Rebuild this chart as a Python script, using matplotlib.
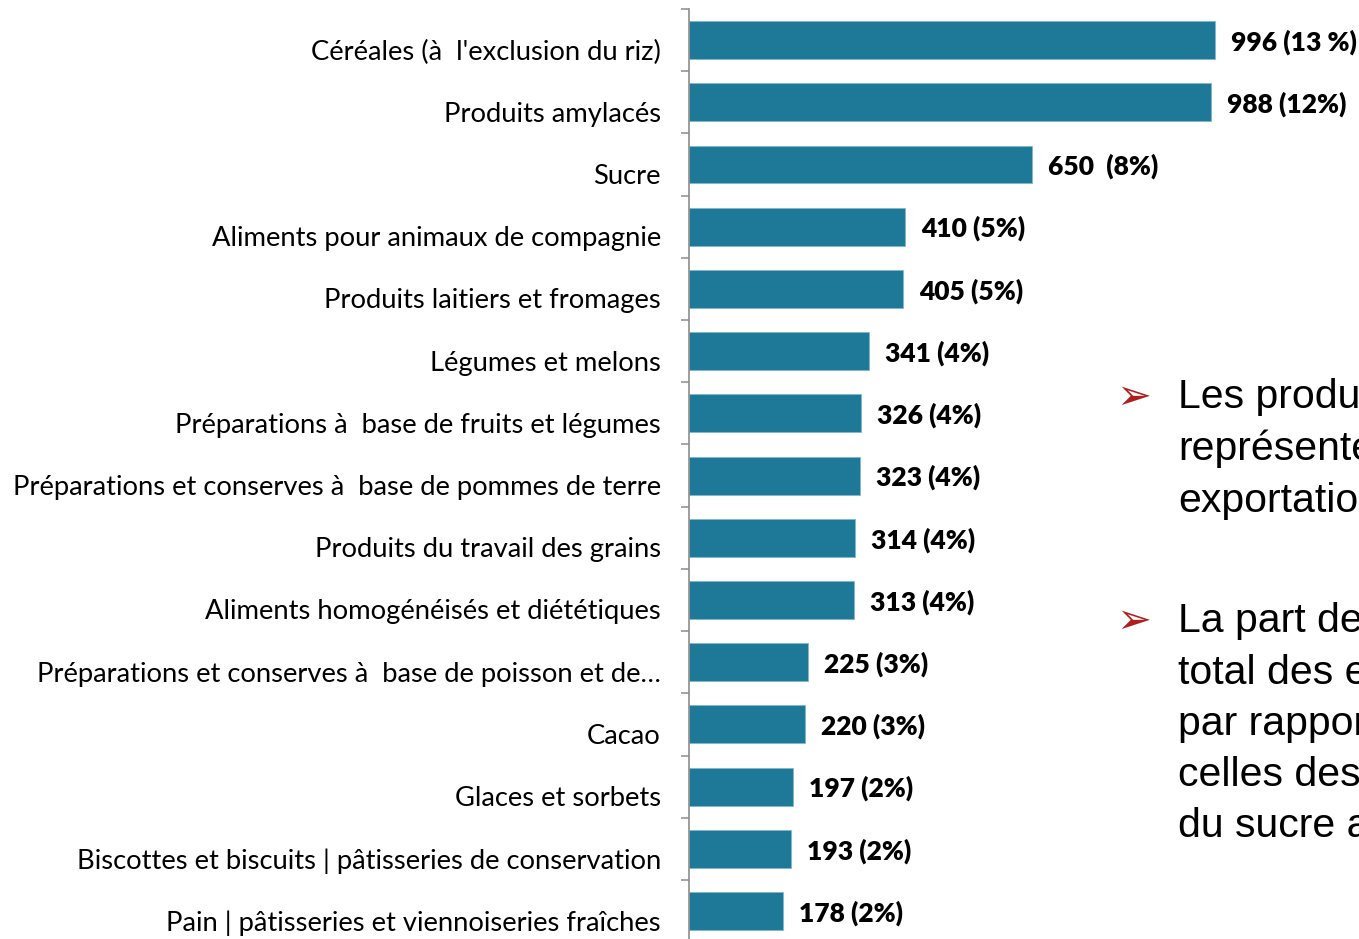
import matplotlib
matplotlib.use("Agg")
import matplotlib.pyplot as plt
import matplotlib.transforms as mtransforms

categories = [
    "Céréales (à  l'exclusion du riz)",
    "Produits amylacés",
    "Sucre",
    "Aliments pour animaux de compagnie",
    "Produits laitiers et fromages",
    "Légumes et melons",
    "Préparations à  base de fruits et légumes",
    "Préparations et conserves à  base de pommes de terre",
    "Produits du travail des grains",
    "Aliments homogénéisés et diététiques",
    "Préparations et conserves à  base de poisson et de…",
    "Cacao",
    "Glaces et sorbets",
    "Biscottes et biscuits | pâtisseries de conservation",
    "Pain | pâtisseries et viennoiseries fraîches",
]
values = [996, 988, 650, 410, 405, 341, 326, 323, 314, 313, 225, 220, 197, 193, 178]
value_labels = [
    "996 (13 %)", "988 (12%)", "650  (8%)", "410 (5%)", "405 (5%)",
    "341 (4%)", "326 (4%)", "323 (4%)", "314 (4%)", "313 (4%)",
    "225 (3%)", "220 (3%)", "197 (2%)", "193 (2%)", "178 (2%)",
]
bullets = [
    ["Les produits", "représentent", "exportations"],
    ["La part des", "total des exportations", "par rapport", "celles des", "du sucre a"],
]

W, H, DPI = 1359, 939, 100
fig = plt.figure(figsize=(W / DPI, H / DPI), dpi=DPI)
fig.patch.set_facecolor("white")

# axes placed in pixel terms of the reference
left, right = 689, 1359
top, bottom = 9, 9 + 15 * 62.21
ax = fig.add_axes([left / W, 1 - bottom / H, (right - left) / W, (bottom - top) / H])

n = len(categories)
ypos = list(range(n))
ax.barh(ypos, values, height=0.61, color="#1E7898", edgecolor="#7FB8CC", linewidth=0.6)
ax.set_ylim(n - 0.5, -0.5)
ax.set_xlim(0, (right - left) / 0.528)

for s in ["top", "right", "bottom"]:
    ax.spines[s].set_visible(False)
ax.spines["left"].set_color("#8C8C8C")
ax.spines["left"].set_linewidth(1.2)
ax.set_xticks([])
ax.set_yticks([i - 0.5 for i in range(n + 1)])
ax.set_yticklabels([])
ax.tick_params(axis="y", length=6, width=1.1, color="#8C8C8C", direction="out")

# category labels, a bit below the bar centres
shift = mtransforms.ScaledTranslation(-28 / DPI, -12 / DPI, fig.dpi_scale_trans)
ytrans = ax.get_yaxis_transform() + shift
for i, c in enumerate(categories):
    ax.text(0, i, c, transform=ytrans, ha="right", va="center",
            fontsize=19.7, family="Lato", color="black")

# value labels
vshift = mtransforms.ScaledTranslation(16 / DPI, -2 / DPI, fig.dpi_scale_trans)
for i, (v, lab) in enumerate(zip(values, value_labels)):
    ax.text(v, i, lab, transform=ax.transData + vshift, ha="left", va="center",
            fontsize=19, family="Lato", fontweight="heavy", color="black",
            clip_on=False)

# bullet text on the right, clipped by the figure edge like the reference
line_y = [[397, 449, 501], [621, 673, 724, 775, 826]]
for lines, ys in zip(bullets, line_y):
    fig.text(1134 / W, 1 - ys[0] / H, "➢", family="DejaVu Sans", fontsize=30,
             color="#B01E1E", ha="center", va="center")
    for txt, y in zip(lines, ys):
        fig.text(1178 / W, 1 - y / H, txt, family="Liberation Sans", fontsize=29.5,
                 color="black", ha="left", va="center")

fig.savefig("out.png", dpi=DPI)
